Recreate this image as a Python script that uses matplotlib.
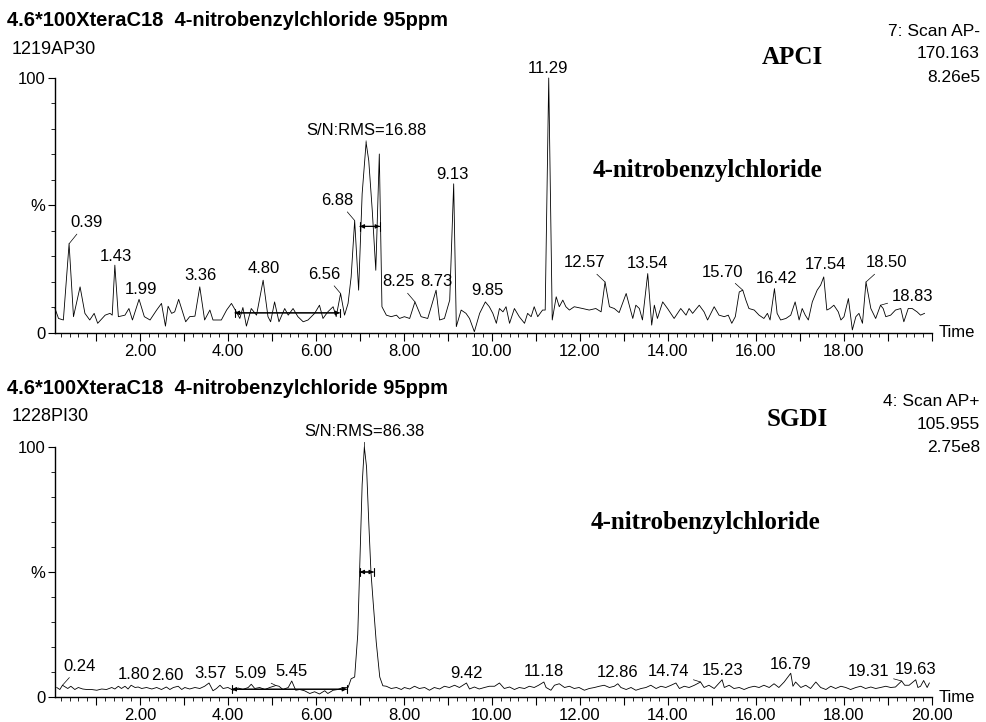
import numpy as np
import matplotlib.pyplot as plt
from matplotlib.ticker import MultipleLocator

plt.rcParams['font.family'] = ['Liberation Sans', 'DejaVu Sans']

# ---- APCI chromatogram (top), time in min, intensity in %
apci_t = [0.07, 0.15, 0.26, 0.39, 0.49, 0.64, 0.75, 0.86, 0.96, 1.04, 1.21, 1.32, 1.37, 1.43,
          1.51, 1.66, 1.75, 1.83, 1.98, 2.10, 2.23, 2.38, 2.49, 2.58, 2.64, 2.72, 2.79, 2.88,
          3.04, 3.13, 3.25, 3.36, 3.47, 3.59, 3.66, 3.85, 3.97, 4.08, 4.19, 4.27, 4.34, 4.42,
          4.53, 4.65, 4.80, 4.91, 4.97, 5.06, 5.16, 5.29, 5.37, 5.48, 5.59, 5.71, 5.82, 5.97,
          6.08, 6.16, 6.27, 6.39, 6.46, 6.56, 6.65, 6.73, 6.80, 6.88, 6.97, 7.05, 7.14, 7.20,
          7.28, 7.36, 7.44, 7.50, 7.60, 7.71, 7.83, 7.90, 8.01, 8.13, 8.25, 8.39, 8.54, 8.62,
          8.73, 8.81, 8.92, 9.04, 9.13, 9.19, 9.30, 9.41, 9.49, 9.60, 9.72, 9.85, 9.94, 10.02,
          10.10, 10.17, 10.25, 10.32, 10.40, 10.51, 10.62, 10.74, 10.81, 10.89, 10.96, 11.04,
          11.15, 11.21, 11.29, 11.37, 11.46, 11.53, 11.61, 11.68, 11.76, 11.87, 12.06, 12.21,
          12.36, 12.48, 12.57, 12.67, 12.78, 12.89, 13.05, 13.20, 13.27, 13.35, 13.42, 13.54,
          13.63, 13.69, 13.76, 13.88, 13.99, 14.14, 14.29, 14.41, 14.48, 14.56, 14.71, 14.82,
          14.90, 15.05, 15.16, 15.28, 15.37, 15.45, 15.53, 15.62, 15.70, 15.77, 15.84, 15.96,
          16.07, 16.18, 16.26, 16.32, 16.42, 16.48, 16.56, 16.68, 16.79, 16.89, 16.98, 17.05,
          17.12, 17.19, 17.28, 17.39, 17.47, 17.54, 17.61, 17.68, 17.77, 17.87, 17.93, 18.00,
          18.10, 18.19, 18.27, 18.34, 18.42, 18.50, 18.61, 18.72, 18.83, 18.89, 18.95, 19.06,
          19.17, 19.29, 19.36, 19.46, 19.55, 19.66, 19.74, 19.83]
apci_i = [9.6, 5.7, 5.1, 35.0, 6.4, 18.1, 7.7, 5.1, 7.7, 3.8, 7.0, 7.7, 7.0, 26.6,
          6.4, 7.0, 9.6, 5.1, 13.2, 6.4, 5.1, 9.0, 11.6, 2.7, 10.5, 7.7, 8.3, 13.2,
          4.4, 6.4, 6.6, 18.1, 5.1, 9.0, 5.1, 5.1, 9.0, 11.6, 8.3, 5.7, 10.0, 2.7,
          9.6, 7.0, 20.7, 6.4, 4.4, 12.2, 4.4, 9.6, 7.0, 9.6, 6.4, 4.4, 5.1, 7.7,
          10.9, 5.7, 8.3, 10.3, 6.4, 15.5, 7.0, 11.6, 22.0, 44.1, 16.8, 54.6, 74.7, 67.6,
          48.0, 24.6, 70.2, 10.3, 7.0, 6.4, 7.0, 5.7, 6.4, 5.7, 12.2, 6.4, 5.7, 10.3,
          16.8, 5.1, 5.7, 12.9, 58.5, 2.5, 9.0, 7.7, 5.7, 0.5, 7.7, 12.2, 10.3, 7.7,
          3.8, 9.6, 8.3, 10.3, 3.8, 9.6, 6.4, 3.8, 7.7, 6.4, 10.3, 6.4,
          9.0, 9.0, 100.0, 5.1, 14.2, 10.3, 12.9, 10.3, 9.0, 10.3, 9.6, 9.0,
          9.6, 8.3, 20.0, 10.3, 9.6, 8.0, 15.5, 5.7, 10.9, 9.6, 5.1, 23.3,
          3.1, 10.9, 5.7, 12.2, 9.6, 5.7, 9.6, 7.0, 9.6, 7.7, 10.9, 8.3,
          5.1, 10.3, 7.0, 6.4, 7.0, 3.8, 6.4, 16.1, 16.8, 12.9, 9.6, 9.0,
          7.0, 5.7, 7.7, 5.1, 17.4, 7.7, 5.1, 5.7, 7.0, 12.2, 5.1, 9.6,
          7.0, 5.1, 12.2, 16.8, 18.8, 22.0, 9.0, 9.6, 10.9, 8.3, 5.1, 6.4,
          13.5, 1.2, 6.4, 7.7, 3.8, 20.0, 9.6, 5.7, 10.9, 9.6, 6.4, 7.0,
          9.0, 9.6, 4.4, 9.6, 9.6, 8.3, 7.0, 7.7]

# ---- SGDI chromatogram (bottom)
sgdi_t = [0.11, 0.18, 0.24, 0.36, 0.43, 0.52, 0.60, 0.70, 0.79, 0.90, 1.02, 1.13, 1.24, 1.36,
          1.43, 1.51, 1.58, 1.66, 1.73, 1.80, 1.89, 1.96, 2.04, 2.15, 2.27, 2.38, 2.49, 2.60,
          2.68, 2.76, 2.87, 2.95, 3.02, 3.13, 3.25, 3.36, 3.47, 3.57, 3.66, 3.74, 3.82, 3.89,
          4.00, 4.12, 4.23, 4.34, 4.46, 4.53, 4.61, 4.72, 4.84, 4.95, 5.09, 5.16, 5.25, 5.37,
          5.45, 5.54, 5.63, 5.74, 5.86, 5.97, 6.08, 6.20, 6.27, 6.39, 6.50, 6.61, 6.73, 6.80,
          6.88, 6.95, 7.00, 7.05, 7.10, 7.15, 7.20, 7.25, 7.30, 7.37, 7.45, 7.52, 7.60, 7.71,
          7.83, 7.94, 8.01, 8.13, 8.24, 8.35, 8.47, 8.58, 8.69, 8.81, 8.92, 9.03, 9.15, 9.26,
          9.42, 9.49, 9.60, 9.71, 9.83, 9.94, 10.06, 10.17, 10.28, 10.40, 10.51, 10.62, 10.74,
          10.85, 10.96, 11.06, 11.18, 11.23, 11.34, 11.42, 11.53, 11.65, 11.76, 11.87, 11.98,
          12.10, 12.21, 12.33, 12.44, 12.55, 12.67, 12.78, 12.86, 12.93, 13.05, 13.16, 13.27,
          13.39, 13.50, 13.61, 13.73, 13.84, 13.95, 14.07, 14.18, 14.26, 14.37, 14.48, 14.60,
          14.74, 14.82, 14.93, 15.05, 15.23, 15.28, 15.39, 15.50, 15.62, 15.73, 15.84, 15.96,
          16.07, 16.18, 16.30, 16.41, 16.52, 16.64, 16.79, 16.84, 16.90, 17.02, 17.13, 17.24,
          17.36, 17.47, 17.59, 17.70, 17.81, 17.93, 18.04, 18.15, 18.27, 18.38, 18.49, 18.61,
          18.72, 18.83, 18.95, 19.06, 19.17, 19.31, 19.38, 19.48, 19.63, 19.68, 19.74, 19.81,
          19.89, 19.94]
sgdi_i = [3.8, 3.0, 4.7, 3.4, 4.3, 3.0, 3.8, 3.2, 3.0, 3.0, 2.7, 3.2, 3.0, 3.8,
          3.2, 4.3, 3.4, 4.3, 3.2, 4.7, 3.8, 4.0, 3.4, 3.8, 3.2, 3.8, 3.0, 4.0,
          3.0, 3.8, 4.3, 3.0, 3.8, 3.2, 3.8, 3.4, 4.3, 5.6, 2.5, 3.4, 4.7, 3.4,
          3.8, 2.7, 3.6, 3.0, 3.8, 5.1, 3.4, 3.8, 3.0, 3.8, 4.6, 4.3, 3.0, 3.8,
          6.4, 2.7, 3.0, 2.5, 1.4, 2.1, 1.2, 2.5, 1.4, 2.7, 3.0, 3.8, 3.8, 7.3,
          8.0, 25.0, 55.0, 85.0, 100.0, 92.0, 70.0, 50.0, 38.0, 22.0, 8.0, 4.5, 4.3, 3.4,
          3.8, 3.0, 3.8, 3.2, 4.3, 3.4, 3.8, 2.7, 3.8, 3.2, 4.3, 3.8, 4.7, 3.8,
          5.6, 3.2, 4.0, 3.2, 3.8, 4.3, 4.3, 5.6, 3.4, 4.0, 3.0, 3.8, 3.4,
          4.3, 3.8, 4.7, 6.0, 3.8, 2.7, 4.7, 5.3, 3.8, 4.3, 3.4, 3.8,
          2.7, 3.4, 3.8, 4.3, 4.7, 3.8, 4.3, 5.3, 3.8, 3.0, 3.8, 2.7,
          3.4, 3.8, 4.7, 3.4, 4.3, 3.8, 4.7, 5.6, 3.4, 4.3, 3.8, 4.7,
          6.0, 3.8, 4.7, 3.4, 6.9, 3.8, 4.7, 3.4, 3.8, 3.0, 3.8, 4.3,
          3.8, 4.7, 3.8, 5.3, 3.8, 6.0, 9.5, 4.3, 6.0, 3.8, 4.7, 3.4,
          6.0, 3.8, 3.0, 4.3, 3.4, 4.3, 3.8, 3.0, 3.8, 4.3, 3.4, 4.0,
          3.4, 3.8, 4.3, 3.8, 4.0, 6.4, 4.7, 4.7, 6.9, 3.8, 4.3, 6.6,
          3.8, 5.6]

top_peaks = ["0.39", "1.43", "1.99", "3.36", "4.80", "6.56", "6.88", "8.25", "8.73", "9.13",
             "9.85", "11.29", "12.57", "13.54", "15.70", "16.42", "17.54", "18.50", "18.83"]
bot_peaks = ["0.24", "1.80", "2.60", "3.57", "5.09", "5.45", "9.42", "11.18", "12.86",
             "14.74", "15.23", "16.79", "19.31", "19.63"]

# label offsets from the peak apex in pixels (dx, dy up) and whether a leader line is drawn
top_off = [(17, 21, 1), (1, 9, 0), (2, 10, 0), (1, 11, 0), (1, 12, 0), (-16, 19, 1), (-17, 20, 1),
           (-17, 20, 1), (0, 9, 0), (-1, 9, 0), (2, 11, 0), (-1, 9, 0), (-20, 19, 1), (0, 10, 0),
           (-20, 18, 1), (2, 10, 0), (2, 12, 0), (21, 19, 1), (32, 9, 1)]
bot_off = [(17, 19, 1), (3, 11, 0), (1, 12, 0), (1, 10, 0), (-25, 12, 1), (0, 10, 0), (0, 10, 0),
           (0, 10, 0), (0, 11, 0), (-32, 10, 1), (0, 9, 0), (0, 9, 0), (-33, 9, 1), (0, 10, 0)]

W, H = 987, 722
fig = plt.figure(figsize=(W / 100, H / 100), dpi=100)
PT = 72 / 100  # points per pixel

ax1 = fig.add_axes([55 / W, 1 - 333 / H, 877 / W, 255 / H])
ax2 = fig.add_axes([55 / W, 1 - 697 / H, 877 / W, 250 / H])


def setup(ax, xmax, last_label):
    ax.set_xlim(0.07, xmax)
    ax.set_ylim(0, 100)
    for s in ["top", "right"]:
        ax.spines[s].set_visible(False)
    ax.spines["left"].set_linewidth(1.0)
    ax.spines["bottom"].set_linewidth(1.0)
    ticks = np.arange(1, 20.5, 1)
    ax.set_xticks(ticks)
    ax.set_xticklabels(["%.2f" % v if (v % 2 == 0 and v <= last_label) else "" for v in ticks])
    ax.xaxis.set_minor_locator(MultipleLocator(0.2))
    ax.set_yticks([0, 50, 100])
    ax.set_yticklabels(["0", "%", "100"])
    ax.yaxis.set_minor_locator(MultipleLocator(10))
    ax.tick_params(axis="both", which="major", direction="out", length=6, width=0.8,
                   labelsize=12, pad=2)
    ax.tick_params(axis="both", which="minor", direction="out", length=3, width=0.6)
    ax.tick_params(axis="y", which="major", length=5)
    ax.text(1.008, 0, "Time", transform=ax.transAxes, fontsize=12, va="center", ha="left")


def label_peaks(ax, t, y, names, offs):
    t = np.asarray(t)
    y = np.asarray(y)
    for name, (dx, dy, lead) in zip(names, offs):
        rt = float(name)
        m = np.abs(t - rt) <= 0.1
        k = np.argmax(np.where(m, y, -1))
        props = dict(arrowstyle="-", lw=0.5, color="black", shrinkA=1, shrinkB=0) if lead else None
        ax.annotate(name, xy=(t[k], y[k]), xytext=(dx * PT, dy * PT), textcoords="offset points",
                    ha="center", va="center", fontsize=12, arrowprops=props, annotation_clip=False)


def sn_arrow(ax, t1, t2, level):
    ax.annotate("", xy=(t2, level), xytext=(t1, level),
                arrowprops=dict(arrowstyle="<|-|>", lw=0.8, color="black", mutation_scale=6,
                                shrinkA=0, shrinkB=0))
    ax.annotate("", xy=(t2, level), xytext=(t1, level),
                arrowprops=dict(arrowstyle="|-|", lw=0.8, color="black", mutation_scale=3,
                                shrinkA=0, shrinkB=0))


setup(ax1, 19.97, 18)
setup(ax2, 20.0, 20)

ax1.plot(apci_t, apci_i, color="black", lw=0.6, clip_on=False)
ax2.plot(sgdi_t, sgdi_i, color="black", lw=0.6, clip_on=False)

label_peaks(ax1, apci_t, apci_i, top_peaks, top_off)
label_peaks(ax2, sgdi_t, sgdi_i, bot_peaks, bot_off)

# S/N:RMS markers
sn_arrow(ax1, 4.16, 6.54, 7.9)
sn_arrow(ax1, 7.00, 7.45, 41.8)
sn_arrow(ax2, 4.09, 6.70, 3.1)
sn_arrow(ax2, 7.00, 7.31, 50.0)
ax1.annotate("S/N:RMS=16.88", xy=(7.14, 74.7), xytext=(0, 12 * PT), textcoords="offset points",
             ha="center", va="center", fontsize=12,
             arrowprops=dict(arrowstyle="-", lw=0.5, shrinkA=0, shrinkB=0))
ax2.annotate("S/N:RMS=86.38", xy=(7.10, 100.0), xytext=(0, 15 * PT), textcoords="offset points",
             ha="center", va="center", fontsize=12, annotation_clip=False,
             arrowprops=dict(arrowstyle="-", lw=0.5, shrinkA=0, shrinkB=0))

# headers
def ftxt(x, y, s, **kw):
    fig.text(x / W, 1 - y / H, s, **kw)

header = "4.6*100XteraC18  4-nitrobenzylchloride 95ppm"
ftxt(7, 20, header, fontsize=14.5, fontweight="bold", va="center")
ftxt(12, 49, "1219AP30", fontsize=13, va="center")
ftxt(7, 388, header, fontsize=14.5, fontweight="bold", va="center")
ftxt(12, 416, "1228PI30", fontsize=13, va="center")

for (y0, lines) in [(31, ["7: Scan AP-", "170.163", "8.26e5"]),
                    (401, ["4: Scan AP+", "105.955", "2.75e8"])]:
    for i, s in enumerate(lines):
        ftxt(980, y0 + i * 23, s, fontsize=12.5, ha="right", va="center")

serif = ["Liberation Serif", "DejaVu Serif"]
ftxt(792, 57, "APCI", fontsize=18, fontweight="bold", family=serif, ha="center", va="center")
ftxt(708, 170, "4-nitrobenzylchloride", fontsize=18, fontweight="bold", family=serif,
     ha="center", va="center")
ftxt(797, 419, "SGDI", fontsize=18, fontweight="bold", family=serif, ha="center", va="center")
ftxt(706, 523, "4-nitrobenzylchloride", fontsize=18, fontweight="bold", family=serif,
     ha="center", va="center")

fig.savefig("out.png", dpi=100)
